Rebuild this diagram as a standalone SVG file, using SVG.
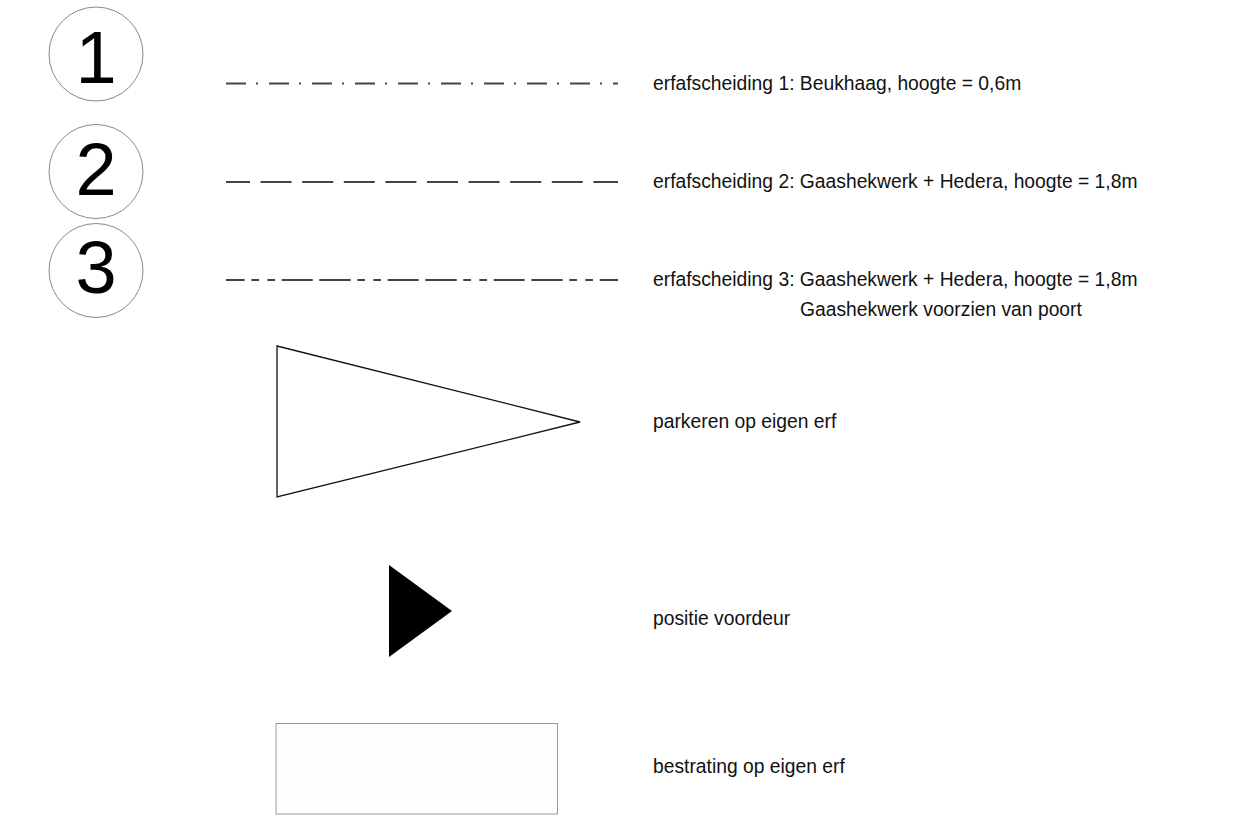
<svg xmlns="http://www.w3.org/2000/svg" width="1235" height="818" viewBox="0 0 1235 818">
<style>
.circ{fill:#fff;stroke:#8a8a8a;stroke-width:1}
.num{font-family:"Liberation Sans",Arial,sans-serif;font-size:74px;fill:#000;text-anchor:middle}
.lbl{font-family:"Liberation Sans",Arial,sans-serif;font-size:19.3px;fill:#111}
.ln{stroke:#444;stroke-width:2;fill:none}
</style>
<rect width="1235" height="818" fill="#fff"/>
<g id="marker1"><circle class="circ" cx="96" cy="54" r="47"/><text class="num" x="96" y="83">1</text></g>
<g id="marker2"><circle class="circ" cx="96" cy="171.5" r="47"/><text class="num" x="96" y="195">2</text></g>
<g id="marker3"><circle class="circ" cx="96" cy="270.5" r="47"/><text class="num" x="96" y="293">3</text></g>
<g id="connectors">
<line id="line1" class="ln" x1="226" y1="83.5" x2="618" y2="83.5" stroke-dasharray="20 10 2 11"/>
<line id="line2" class="ln" x1="226" y1="182" x2="618" y2="182" stroke-dasharray="31 10.6" stroke-dashoffset="7"/>
<line id="line3" class="ln" x1="226" y1="280" x2="618" y2="280" stroke-dasharray="31 6.6 31.4 6.6 7.7 8.3 7.7 6.7" stroke-dashoffset="50.3"/>
</g>
<g id="legend1"><text class="lbl" x="653" y="90">erfafscheiding 1: Beukhaag, hoogte = 0,6m</text></g>
<g id="legend2"><text class="lbl" x="653" y="188">erfafscheiding 2: Gaashekwerk + Hedera, hoogte = 1,8m</text></g>
<g id="legend3"><text class="lbl" x="653" y="286">erfafscheiding 3: Gaashekwerk + Hedera, hoogte = 1,8m</text><text class="lbl" x="800" y="316">Gaashekwerk voorzien van poort</text></g>
<g id="parkeren"><polygon points="277,346 580,422 277,497" fill="#fff" stroke="#111" stroke-width="1.3"/><text class="lbl" x="653" y="428">parkeren op eigen erf</text></g>
<g id="voordeur"><polygon points="389,565 452,611 389,657" fill="#000"/><text class="lbl" x="653" y="625">positie voordeur</text></g>
<g id="bestrating"><rect x="276" y="723.5" width="281.5" height="90.5" fill="#fdfdfd" stroke="#999" stroke-width="1"/><text class="lbl" x="653" y="773">bestrating op eigen erf</text></g>
</svg>
